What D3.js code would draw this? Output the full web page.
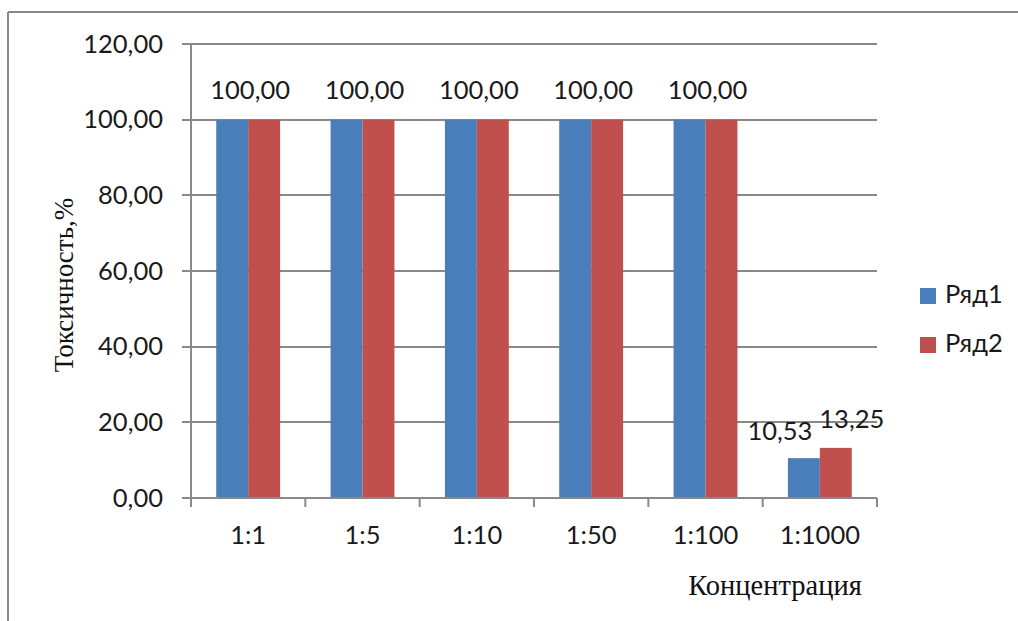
<!DOCTYPE html>
<html>
<head>
<meta charset="utf-8">
<script src="https://cdn.jsdelivr.net/npm/d3@7"></script>
<style>
  html, body { margin: 0; padding: 0; background: #fff; }
  svg { display: block; }
</style>
</head>
<body>
<svg id="chart" width="1018" height="621"></svg>
<script>
// Toxicity by dilution, two series
const categories = ["1:1", "1:5", "1:10", "1:50", "1:100", "1:1000"];
const series1 = [100, 100, 100, 100, 100, 10.53];
const series2 = [100, 100, 100, 100, 100, 13.25];
const seriesNames = ["Ряд1", "Ряд2"];
const yTicks = [0, 20, 40, 60, 80, 100, 120];
const colors = ["#4A7EBB", "#C0504D"];

const svg = d3.select("#chart");
const W = 1018, H = 621;
const margin = { left: 191, right: 1018 - 877, top: 44, bottom: 621 - 498 };
const fmt = v => v.toFixed(2).replace(".", ",");
const labelFont = "Lato, 'Open Sans', sans-serif";
const labelSize = 25.5;
const serifFont = "'Liberation Serif', 'DejaVu Serif', serif";
const gridColor = "#898989";

// frame (top and left edges)
svg.append("line").attr("x1", 8).attr("x2", W).attr("y1", 12).attr("y2", 12)
  .attr("stroke", gridColor).attr("stroke-width", 2);
svg.append("line").attr("x1", 8).attr("x2", 8).attr("y1", 12).attr("y2", H)
  .attr("stroke", gridColor).attr("stroke-width", 2);

const x = d3.scaleBand().domain(categories)
  .range([margin.left, W - margin.right]).paddingInner(0).paddingOuter(0);
const inner = d3.scaleBand().domain([0, 1])
  .range([0, x.bandwidth()]).paddingInner(0).paddingOuter(0.79);
const y = d3.scaleLinear().domain([0, 120]).range([H - margin.bottom, margin.top]);

// horizontal gridlines with left tick stubs
const grid = svg.append("g");
grid.selectAll("line").data(yTicks).join("line")
  .attr("x1", margin.left - 9).attr("x2", W - margin.right)
  .attr("y1", d => Math.round(y(d))).attr("y2", d => Math.round(y(d)))
  .attr("stroke", gridColor).attr("stroke-width", 2);

// y tick labels
svg.append("g").selectAll("text").data(yTicks).join("text")
  .attr("x", margin.left - 28).attr("y", d => y(d) + 8.5)
  .attr("text-anchor", "end")
  .attr("font-family", labelFont).attr("font-size", labelSize).attr("fill", "#1a1a1a")
  .text(fmt);

// bars
const rows = categories.map((c, i) => ({ c, vals: [series1[i], series2[i]] }));
const groups = svg.append("g").selectAll("g").data(rows).join("g")
  .attr("transform", d => `translate(${x(d.c)},0)`);
groups.selectAll("rect").data(d => d.vals.map((v, k) => ({ v, k }))).join("rect")
  .attr("x", d => inner(d.k)).attr("width", inner.bandwidth())
  .attr("y", d => y(d.v)).attr("height", d => y(0) - y(d.v))
  .attr("fill", d => colors[d.k]);

// y axis line
svg.append("line").attr("x1", margin.left).attr("x2", margin.left)
  .attr("y1", y(120)).attr("y2", y(0) + 8)
  .attr("stroke", gridColor).attr("stroke-width", 2);

// x axis with category boundary ticks
const bottomY = Math.round(y(0));
const xAxis = svg.append("g");
xAxis.append("line").attr("x1", margin.left).attr("x2", W - margin.right)
  .attr("y1", bottomY).attr("y2", bottomY)
  .attr("stroke", gridColor).attr("stroke-width", 2);
const bounds = categories.map(c => x(c)).concat([x.range()[1]]);
xAxis.selectAll("line.tick").data(bounds).join("line").attr("class", "tick")
  .attr("x1", d => d).attr("x2", d => d)
  .attr("y1", bottomY).attr("y2", bottomY + 9)
  .attr("stroke", gridColor).attr("stroke-width", 2);
xAxis.selectAll("text").data(categories).join("text")
  .attr("x", d => x(d) + x.bandwidth() / 2).attr("y", bottomY + 46)
  .attr("text-anchor", "middle")
  .attr("font-family", labelFont).attr("font-size", labelSize).attr("fill", "#1a1a1a")
  .text(d => d);

// value labels: one centred label when both bars are equal,
// otherwise each label sits over its own bar, nudged apart
const labels = [];
rows.forEach(r => {
  const cx = x(r.c) + x.bandwidth() / 2;
  if (r.vals[0] === r.vals[1]) {
    labels.push({ x: cx + 2, y: y(r.vals[0]) - 21, t: fmt(r.vals[0]) });
  } else {
    labels.push({ x: x(r.c) + inner(0) + inner.bandwidth() / 2 - 24, y: y(r.vals[0]) - 18.5, t: fmt(r.vals[0]) });
    labels.push({ x: x(r.c) + inner(1) + inner.bandwidth() / 2 + 16, y: y(r.vals[1]) - 20, t: fmt(r.vals[1]) });
  }
});
svg.append("g").selectAll("text").data(labels).join("text")
  .attr("x", d => d.x).attr("y", d => d.y)
  .attr("text-anchor", "middle")
  .attr("font-family", labelFont).attr("font-size", labelSize).attr("fill", "#1a1a1a")
  .text(d => d.t);

// axis titles
svg.append("text")
  .attr("transform", `translate(73,${285}) rotate(-90)`)
  .attr("text-anchor", "middle")
  .attr("font-family", serifFont).attr("font-size", 27).attr("fill", "#111")
  .text("Токсичность,%");
svg.append("text")
  .attr("x", 775).attr("y", 595)
  .attr("text-anchor", "middle")
  .attr("font-family", serifFont).attr("font-size", 28.5).attr("fill", "#111")
  .text("Концентрация");

// legend
const legend = svg.append("g").selectAll("g").data(seriesNames).join("g")
  .attr("transform", (d, i) => `translate(920,${288 + i * 49})`);
legend.append("rect").attr("width", 16).attr("height", 16)
  .attr("fill", (d, i) => colors[i]);
legend.append("text").attr("x", 25).attr("y", 15)
  .attr("font-family", labelFont).attr("font-size", labelSize).attr("fill", "#1a1a1a")
  .text(d => d);
</script>
</body>
</html>
